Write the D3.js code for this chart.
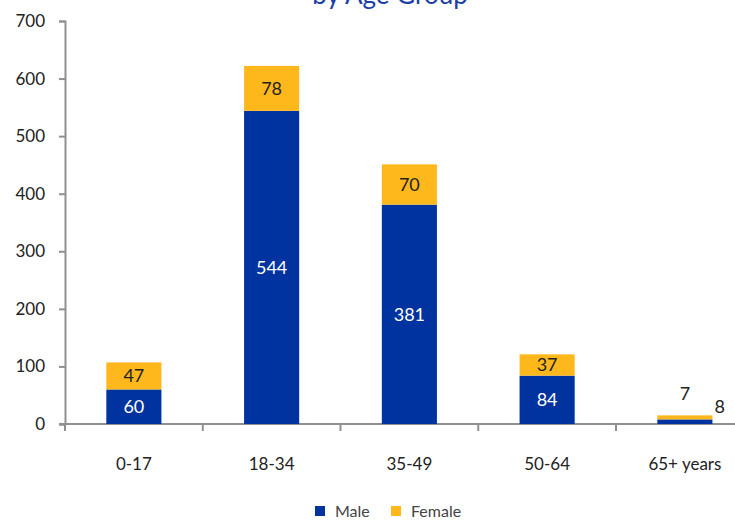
<!DOCTYPE html>
<html>
<head>
<meta charset="utf-8">
<script src="https://cdn.jsdelivr.net/npm/d3@7"></script>
<style>
  body { margin: 0; background: #fff; }
  text { font-family: Lato, "Open Sans", sans-serif; }
</style>
</head>
<body>
<div id="chart"></div>
<script>
const categories = ['0-17', '18-34', '35-49', '50-64', '65+ years']
const male = [60, 544, 381, 84, 8]
const female = [47, 78, 70, 37, 7]
const yTicks = [0, 100, 200, 300, 400, 500, 600, 700]

const width = 735, height = 523
const padLeft = 65, padTop = 21, plotH = 403
const band = 137.75

const svg = d3.select('#chart').append('svg')
    .attr('width', width)
    .attr('height', height)

// title, top line is cut off in the original
svg.append('text')
    .attr('x', 390).attr('y', 4)
    .attr('text-anchor', 'middle')
    .style('font-size', '26px')
    .style('fill', '#1a3fa6')
    .text('by Age Group')

const x = d3.scaleBand()
    .domain(categories)
    .range([padLeft, padLeft + band * categories.length])
    .paddingInner(0.6).paddingOuter(0.3)

const y = d3.scaleLinear().domain([0, 700]).range([padTop + plotH, padTop])

// y axis
const yAxis = svg.append('g')
    .attr('transform', `translate(${padLeft},0)`)
    .call(d3.axisLeft(y).tickValues(yTicks).tickSize(6).tickPadding(14))
yAxis.select('.domain').attr('stroke', '#909090').attr('stroke-width', 2)
yAxis.selectAll('.tick line').attr('stroke', '#909090').attr('stroke-width', 2)
yAxis.selectAll('.tick text').style('font-size', '17px').style('fill', '#222')

// x axis line and boundary ticks
const x0 = y(0)
svg.append('line')
    .attr('x1', padLeft - 6).attr('x2', width)
    .attr('y1', x0).attr('y2', x0)
    .attr('stroke', '#909090').attr('stroke-width', 2)
svg.selectAll('.xtick')
    .data(categories)
    .enter().append('line')
    .attr('class', 'xtick')
    .attr('x1', d => x(d) - x.step() * 0.3).attr('x2', d => x(d) - x.step() * 0.3)
    .attr('y1', x0).attr('y2', x0 + 7)
    .attr('stroke', '#909090').attr('stroke-width', 2)
svg.selectAll('.xlab')
    .data(categories)
    .enter().append('text')
    .attr('class', 'xlab')
    .attr('x', d => x(d) + x.bandwidth() / 2)
    .attr('y', 470)
    .attr('text-anchor', 'middle')
    .style('font-size', '17px')
    .style('fill', '#222')
    .text(d => d)

// bars
const maleColor = '#0033a0', femaleColor = '#ffb81c'
svg.selectAll('.male')
    .data(male)
    .enter().append('rect')
    .attr('x', (d, i) => x(categories[i]))
    .attr('width', x.bandwidth())
    .attr('y', d => y(d))
    .attr('height', d => y(0) - y(d))
    .attr('fill', maleColor)
svg.selectAll('.female')
    .data(female)
    .enter().append('rect')
    .attr('x', (d, i) => x(categories[i]))
    .attr('width', x.bandwidth())
    .attr('y', (d, i) => y(d + male[i]))
    .attr('height', (d, i) => y(male[i]) - y(d + male[i]))
    .attr('fill', femaleColor)

// value labels
categories.forEach((c, i) => {
  const cx = x(c) + x.bandwidth() / 2
  if (i < categories.length - 1) {
    svg.append('text')
        .attr('x', cx).attr('y', (y(0) + y(male[i])) / 2)
        .attr('dy', '0.35em').attr('text-anchor', 'middle')
        .style('font-size', '18px').style('fill', '#fff')
        .text(male[i])
    svg.append('text')
        .attr('x', cx).attr('y', (y(male[i]) + y(male[i] + female[i])) / 2)
        .attr('dy', '0.35em').attr('text-anchor', 'middle')
        .style('font-size', '18px').style('fill', '#222')
        .text(female[i])
  } else {
    // too small to hold labels: female above, male to the right
    svg.append('text')
        .attr('x', cx).attr('y', y(male[i] + female[i]) - 22)
        .attr('dy', '0.35em').attr('text-anchor', 'middle')
        .style('font-size', '18px').style('fill', '#222')
        .text(female[i])
    svg.append('text')
        .attr('x', x(c) + x.bandwidth() + 2).attr('y', y(male[i]) - 13)
        .attr('dy', '0.35em').attr('text-anchor', 'start')
        .style('font-size', '18px').style('fill', '#222')
        .text(male[i])
  }
})

// legend
const legend = [['Male', maleColor, 315], ['Female', femaleColor, 391]]
legend.forEach(([name, col, lx]) => {
  svg.append('rect').attr('x', lx).attr('y', 506).attr('width', 10).attr('height', 10).attr('fill', col)
  svg.append('text').attr('x', lx + 20).attr('y', 517)
      .style('font-size', '16px').style('fill', '#444')
      .text(name)
})
</script>
</body>
</html>
